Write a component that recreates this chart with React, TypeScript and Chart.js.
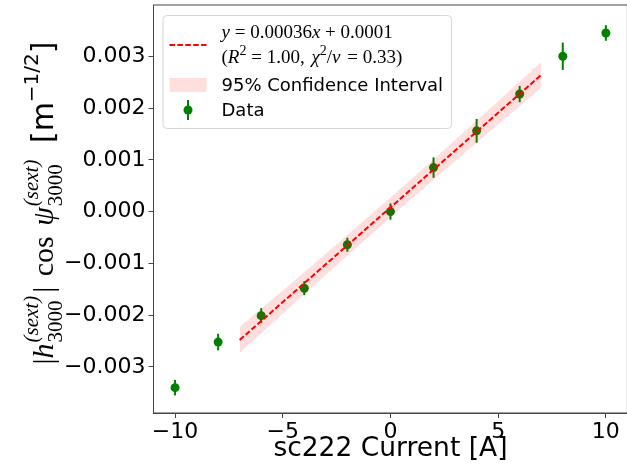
import React, { useEffect, useRef } from "react";
import { Chart, registerables } from "chart.js";
Chart.register(...registerables);

// ---- data ----
const currents = [-10, -8, -6, -4, -2, 0, 2, 4, 6, 8, 10];
const values = [-0.0034, -0.00252, -0.00201, -0.00148, -0.00064, 0.0, 0.00085, 0.00156, 0.00227, 0.003, 0.00345];
const errors = [0.00015, 0.00016, 0.000145, 0.000135, 0.000135, 0.000157, 0.000197, 0.00023, 0.000157, 0.000264, 0.00015];

const fitX = [-7, 7];
const fitY = [-0.00248, 0.00264];

const bandX = [-7, -5, -3, -1, 0, 1, 3, 5, 7];
const bandUpper = [-0.00223, -0.001525, -0.000812, -0.000092, 0.000273, 0.00064, 0.001382, 0.002133, 0.00289];
const bandLower = [-0.00273, -0.001973, -0.001222, -0.00048, -0.000113, 0.000252, 0.000972, 0.001685, 0.00239];

const xTickValues = [-10, -5, 0, 5, 10];
const xTickLabels = ["\u221210", "\u22125", "0", "5", "10"];
const yTickValues = [-0.003, -0.002, -0.001, 0.0, 0.001, 0.002, 0.003];
const yTickLabels = ["\u22120.003", "\u22120.002", "\u22120.001", "0.000", "0.001", "0.002", "0.003"];

const xLabel = "sc222 Current [A]";
const bandLabel = "95% Confidence Interval";
const dataLabel = "Data";

const GREEN = "#008000";
const SERIF = '"Liberation Serif", "DejaVu Serif", serif';
const SANS = '"DejaVu Sans", sans-serif';

type Seg = { t?: string; f?: string; dy?: number; gap?: number; sup?: Seg; sub?: Seg };

function segWidth(ctx: CanvasRenderingContext2D, s: Seg): number {
  if (s.gap !== undefined) return s.gap;
  if (s.sup || s.sub) {
    let w = 0;
    if (s.sup) { ctx.font = s.sup.f!; w = Math.max(w, ctx.measureText(s.sup.t!).width); }
    if (s.sub) { ctx.font = s.sub.f!; w = Math.max(w, ctx.measureText(s.sub.t!).width); }
    return w;
  }
  ctx.font = s.f!;
  return ctx.measureText(s.t!).width;
}

function richWidth(ctx: CanvasRenderingContext2D, segs: Seg[]): number {
  return segs.reduce((a, s) => a + segWidth(ctx, s), 0);
}

function drawRich(ctx: CanvasRenderingContext2D, segs: Seg[], x: number, y: number) {
  ctx.textAlign = "left";
  ctx.textBaseline = "alphabetic";
  let cx = x;
  for (const s of segs) {
    const w = segWidth(ctx, s);
    if (s.gap !== undefined) { cx += w; continue; }
    if (s.sup || s.sub) {
      for (const p of [s.sup, s.sub]) {
        if (!p) continue;
        ctx.font = p.f!;
        ctx.fillText(p.t!, cx, y - (p.dy || 0));
      }
    } else {
      ctx.font = s.f!;
      ctx.fillText(s.t!, cx, y - (s.dy || 0));
    }
    cx += w;
  }
}

const S = 30;
const s = 21;
const rom = (n: number) => `${n}px ${SERIF}`;
const ita = (n: number) => `italic ${n}px ${SERIF}`;
const sans = (n: number) => `${n}px ${SANS}`;

const yLabelSegs: Seg[] = [
  { t: "|", f: rom(S) },
  { t: "h", f: ita(S) },
  { gap: 1 },
  { sup: { t: "(sext)", f: ita(s), dy: 0.5 * S }, sub: { t: "3000", f: rom(s), dy: -0.3 * S } },
  { gap: 3 },
  { t: "|", f: rom(S) },
  { gap: 3 },
  { t: " cos ", f: rom(S) },
  { gap: 3 },
  { t: "\u03c8", f: ita(S) },
  { gap: 1 },
  { sup: { t: "(sext)", f: ita(s), dy: 0.5 * S }, sub: { t: "3000", f: rom(s), dy: -0.3 * S } },
  { gap: 7 },
  { t: " [m", f: sans(30) },
  { t: "\u22121/2", f: sans(20), dy: 0.5 * S },
  { t: "]", f: sans(30) },
];

const L = 19;
const l = 14;
const legLine1: Seg[] = [
  { t: "y", f: ita(L) },
  { t: " = 0.00036", f: rom(L) },
  { t: "x", f: ita(L) },
  { t: " + 0.0001", f: rom(L) },
];
const legLine2: Seg[] = [
  { t: "(", f: rom(L) },
  { t: "R", f: ita(L) },
  { t: "2", f: rom(l), dy: 0.42 * L },
  { t: " = 1.00, ", f: rom(L) },
  { gap: 2 },
  { t: "\u03c7", f: ita(L) },
  { t: "2", f: rom(l), dy: 0.42 * L },
  { t: "/", f: rom(L) },
  { t: "\u03bd", f: ita(L) },
  { gap: 2 },
  { t: " = 0.33)", f: rom(L) },
];

const decorPlugin = {
  id: "decor",
  beforeDatasetDraw(chart: any, args: any) {
    if (args.index !== 3) return;
    const ctx: CanvasRenderingContext2D = chart.ctx;
    const xs = chart.scales.x;
    const ys = chart.scales.y;
    ctx.save();
    ctx.strokeStyle = GREEN;
    ctx.lineWidth = 2;
    for (let i = 0; i < currents.length; i++) {
      const px = xs.getPixelForValue(currents[i]);
      ctx.beginPath();
      ctx.moveTo(px, ys.getPixelForValue(values[i] - errors[i]));
      ctx.lineTo(px, ys.getPixelForValue(values[i] + errors[i]));
      ctx.stroke();
    }
    ctx.restore();
  },
  afterDraw(chart: any) {
    const ctx: CanvasRenderingContext2D = chart.ctx;
    const ca = chart.chartArea;
    ctx.save();
    // frame
    ctx.strokeStyle = "#444";
    ctx.lineWidth = 1;
    ctx.strokeRect(ca.left, ca.top, ca.right - ca.left, ca.bottom - ca.top);

    // x label
    ctx.fillStyle = "#000";
    ctx.font = sans(26.5);
    ctx.textAlign = "center";
    ctx.textBaseline = "alphabetic";
    ctx.fillText(xLabel, (ca.left + ca.right) / 2, ca.bottom + 43);

    // y label (rotated)
    const yw = richWidth(ctx, yLabelSegs);
    ctx.save();
    ctx.translate(ca.left - 100.5, (ca.top + ca.bottom) / 2 - 6);
    ctx.rotate(-Math.PI / 2);
    drawRich(ctx, yLabelSegs, -yw / 2, 0);
    ctx.restore();

    // legend
    const lx = ca.left + 9;
    const ly = ca.top + 10;
    ctx.font = sans(18);
    const tw = Math.max(
      richWidth(ctx, legLine1),
      richWidth(ctx, legLine2),
      (ctx.font = sans(18), ctx.measureText(bandLabel).width),
      ctx.measureText(dataLabel).width
    );
    const bw = 59 + tw + 8;
    const bh = 113;
    ctx.fillStyle = "rgba(255,255,255,0.8)";
    ctx.strokeStyle = "#d6d6d6";
    ctx.lineWidth = 1;
    ctx.beginPath();
    (ctx as any).roundRect(lx + 0.5, ly + 0.5, bw, bh, 4);
    ctx.fill();
    ctx.stroke();

    // fit line handle
    ctx.strokeStyle = "red";
    ctx.lineWidth = 2;
    ctx.setLineDash([5.5, 2.4]);
    ctx.beginPath();
    ctx.moveTo(lx + 7, ly + 30);
    ctx.lineTo(lx + 44, ly + 30);
    ctx.stroke();
    ctx.setLineDash([]);

    ctx.fillStyle = "#000";
    drawRich(ctx, legLine1, lx + 59, ly + 23);
    drawRich(ctx, legLine2, lx + 59, ly + 48);

    // band handle
    ctx.fillStyle = "rgba(255,0,0,0.13)";
    ctx.fillRect(lx + 7, ly + 63, 37, 14);
    ctx.fillStyle = "#000";
    ctx.font = sans(18);
    ctx.textAlign = "left";
    ctx.textBaseline = "middle";
    ctx.fillText(bandLabel, lx + 59, ly + 71);

    // data handle
    ctx.strokeStyle = GREEN;
    ctx.lineWidth = 2;
    ctx.beginPath();
    ctx.moveTo(lx + 25.5, ly + 85);
    ctx.lineTo(lx + 25.5, ly + 105);
    ctx.stroke();
    ctx.fillStyle = GREEN;
    ctx.beginPath();
    ctx.arc(lx + 25.5, ly + 95, 4.5, 0, Math.PI * 2);
    ctx.fill();
    ctx.fillStyle = "#000";
    ctx.fillText(dataLabel, lx + 59, ly + 96);
    ctx.restore();
  },
};

export default function App() {
  const ref = useRef<HTMLCanvasElement | null>(null);
  useEffect(() => {
    const canvas = ref.current!;
    const chart = new Chart(canvas, {
      type: "scatter",
      data: {
        datasets: [
          {
            label: "lower",
            data: bandX.map((x, i) => ({ x, y: bandLower[i] })),
            showLine: true,
            borderWidth: 0,
            pointRadius: 0,
            borderColor: "rgba(0,0,0,0)",
            fill: false,
          },
          {
            label: bandLabel,
            data: bandX.map((x, i) => ({ x, y: bandUpper[i] })),
            showLine: true,
            borderWidth: 0,
            pointRadius: 0,
            borderColor: "rgba(0,0,0,0)",
            backgroundColor: "rgba(255,0,0,0.13)",
            fill: "-1",
          },
          {
            label: "fit",
            data: fitX.map((x, i) => ({ x, y: fitY[i] })),
            showLine: true,
            borderColor: "red",
            borderWidth: 2,
            borderDash: [5.5, 2.4],
            pointRadius: 0,
          },
          {
            label: dataLabel,
            data: currents.map((x, i) => ({ x, y: values[i] })),
            pointRadius: 4.5,
            pointBackgroundColor: GREEN,
            pointBorderWidth: 0,
            borderColor: GREEN,
          },
        ],
      },
      options: {
        animation: false,
        responsive: false,
        devicePixelRatio: 1,
        events: [],
        layout: { padding: { left: 0, top: 5, right: 12.6, bottom: 0 } },
        plugins: { legend: { display: false }, tooltip: { enabled: false }, title: { display: false } },
        scales: {
          x: {
            type: "linear",
            min: -11,
            max: 11,
            afterBuildTicks: (sc: any) => { sc.ticks = xTickValues.map((v) => ({ value: v })); },
            afterFit: (sc: any) => { sc.height = 60; sc.paddingLeft = 0; sc.paddingRight = 0; },
            ticks: {
              callback: (_v: any, i: number) => xTickLabels[i],
              font: { family: "DejaVu Sans", size: 22 },
              color: "#000",
              padding: 1,
              maxRotation: 0,
            },
            grid: { drawOnChartArea: false, drawTicks: true, tickLength: 5, color: "#444" },
            border: { display: true, color: "#444", width: 1 },
          },
          y: {
            type: "linear",
            min: -0.00389,
            max: 0.00399,
            afterBuildTicks: (sc: any) => { sc.ticks = yTickValues.map((v) => ({ value: v })); },
            afterFit: (sc: any) => { sc.width = 153.5; sc.paddingTop = 0; sc.paddingBottom = 0; },
            ticks: {
              callback: (_v: any, i: number) => yTickLabels[i],
              font: { family: "DejaVu Sans", size: 22 },
              color: "#000",
              padding: 3,
            },
            grid: { drawOnChartArea: false, drawTicks: true, tickLength: 5, color: "#444" },
            border: { display: true, color: "#444", width: 1 },
          },
        },
      },
      plugins: [decorPlugin],
    } as any);
    return () => chart.destroy();
  }, []);
  return (
    <div style={{ position: "fixed", left: 0, top: 0, width: 627, height: 473, overflow: "hidden", background: "#fff" }}>
      <canvas ref={ref} width={640} height={473} style={{ display: "block" }} />
    </div>
  );
}
